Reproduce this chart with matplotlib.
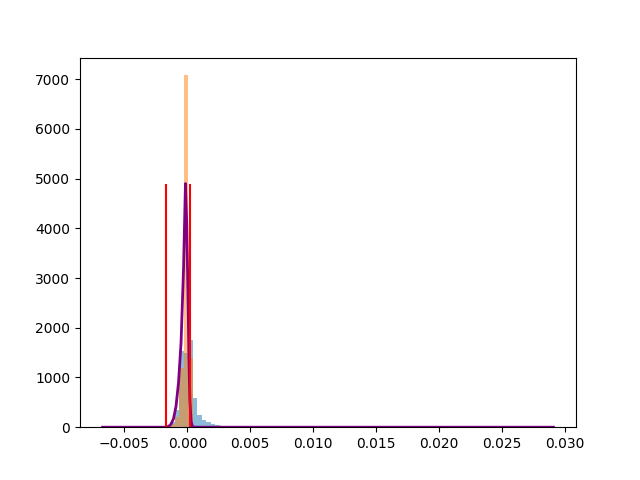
import numpy as np
import matplotlib
matplotlib.use("Agg")
import matplotlib.pyplot as plt

# histogram bins (100 bins over data range)
x_min, x_max, n_bins = -0.00674, 0.0291, 100
edges = np.linspace(x_min, x_max, n_bins + 1)

# blue histogram heights for bins 13..28 (others ~0)
blue_bins = [13, 14, 15, 16, 17, 18, 19, 20, 21, 22, 23, 24, 25, 26, 27, 28]
blue_vals = [5, 20, 100, 340, 1530, 1500, 1750, 580, 240, 150, 100, 65, 45, 25, 12, 5]

# orange histogram heights
orange_bins = [14, 15, 16, 17, 18, 19]
orange_vals = [10, 60, 200, 1200, 7080, 1400]

# fitted curve points
curve_x = [-0.00674, -0.0018, -0.0015, -0.0013, -0.0011, -0.0009, -0.0007, -0.0005,
           -0.0003, -0.00015, -0.00005, 0.00005, 0.00012, 0.0002, 0.0003, 0.0004,
           0.0006, 0.0291]
curve_y = [0, 0, 15, 60, 170, 420, 900, 1700, 3200, 4900, 4100, 2700, 1500, 550, 120, 15, 0, 0]

# vertical marker lines
vline_x = [-0.0017, 0.00025]
vline_top = 4900

fig, ax = plt.subplots(figsize=(6.4, 4.8), dpi=100)

bw = edges[1] - edges[0]
ax.bar(edges[blue_bins], blue_vals, width=bw, align='edge', color='C0', alpha=0.5)
ax.bar(edges[orange_bins], orange_vals, width=bw, align='edge', color='C1', alpha=0.5)
ax.plot(curve_x, curve_y, color='purple', linewidth=2)
ax.vlines(vline_x, 0, vline_top, colors='red', linewidth=1.5)

ax.set_xlim(x_min - 0.05 * (x_max - x_min), x_max + 0.05 * (x_max - x_min))
ax.set_ylim(0, 7080 * 1.05)

fig.savefig("out.png", dpi=100)
